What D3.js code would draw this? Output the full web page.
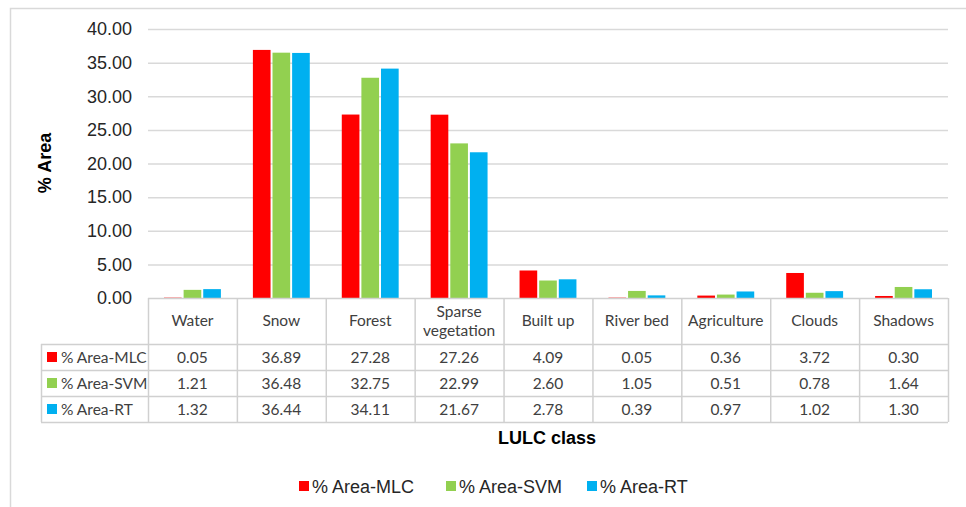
<!DOCTYPE html>
<html>
<head>
<meta charset="utf-8">
<script src="https://cdn.jsdelivr.net/npm/d3@7"></script>
<style>
  html, body { margin: 0; padding: 0; background: #fff; }
  svg { display: block; }
</style>
</head>
<body>
<svg id="chart" width="966" height="507"></svg>
<script>
// LULC classes and area share (%) per classifier
const categories = ["Water", "Snow", "Forest", "Sparse vegetation", "Built up", "River bed", "Agriculture", "Clouds", "Shadows"];
const seriesNames = ["% Area-MLC", "% Area-SVM", "% Area-RT"];
const mlc = [0.05, 36.89, 27.28, 27.26, 4.09, 0.05, 0.36, 3.72, 0.30];
const svm = [1.21, 36.48, 32.75, 22.99, 2.60, 1.05, 0.51, 0.78, 1.64];
const rt  = [1.32, 36.44, 34.11, 21.67, 2.78, 0.39, 0.97, 1.02, 1.30];
const yTicks = [0, 5, 10, 15, 20, 25, 30, 35, 40];
const colors = ["#ff0000", "#92d050", "#00b0f0"];

const series = [mlc, svm, rt];

const svg = d3.select("#chart");
const axisFont = "Arial, 'Liberation Sans', sans-serif";
const tableFont = "Lato, 'Open Sans', sans-serif";
const tableSize = 15.5;

// outer frame (top and left edges visible)
svg.append("rect")
  .attr("x", 10.5).attr("y", 8.5).attr("width", 970).attr("height", 520)
  .attr("fill", "none").attr("stroke", "#d9d9d9").attr("stroke-width", 1.5);

const plotLeft = 148, plotRight = 948, plotTop = 29, plotBottom = 298;

const x = d3.scaleBand().domain(categories).range([plotLeft, plotRight]).paddingInner(0).paddingOuter(0);
const xs = d3.scaleBand().domain(seriesNames).range([16, x.bandwidth() - 16]).paddingInner(0.1);
const y = d3.scaleLinear().domain([0, 40]).range([plotBottom, plotTop]);

// horizontal gridlines
svg.append("g").selectAll("line").data(yTicks.filter(d => d > 0)).join("line")
  .attr("x1", plotLeft).attr("x2", plotRight)
  .attr("y1", d => y(d) + 0.5).attr("y2", d => y(d) + 0.5)
  .attr("stroke", "#d9d9d9").attr("stroke-width", 1.5);

// y axis labels
const yAxis = d3.axisLeft(y).tickValues(yTicks).tickFormat(d3.format(".2f")).tickSize(0).tickPadding(16);
const yg = svg.append("g").attr("transform", `translate(${plotLeft},0)`).call(yAxis);
yg.select(".domain").remove();
yg.selectAll("text")
  .attr("font-family", axisFont).attr("font-size", 18).attr("fill", "#262626");

// y axis title
svg.append("text")
  .attr("transform", "translate(51,163) rotate(-90)")
  .attr("text-anchor", "middle")
  .attr("font-family", axisFont).attr("font-size", 18).attr("font-weight", "bold")
  .attr("fill", "#000")
  .text("% Area");

// bars
const groups = svg.append("g").selectAll("g").data(categories).join("g")
  .attr("transform", d => `translate(${x(d)},0)`);
groups.selectAll("rect")
  .data((c, i) => series.map((s, j) => ({ name: seriesNames[j], value: s[i], color: colors[j] })))
  .join("rect")
  .attr("x", d => xs(d.name))
  .attr("width", xs.bandwidth())
  .attr("y", d => y(d.value))
  .attr("height", d => plotBottom - y(d.value))
  .attr("fill", d => d.color);

// data table below the plot
const gridColor = "#d0d0d0";
const headerBottom = 344, rowH = 26, tableLeft = 41;
const tableBottom = headerBottom + rowH * 3;
const tg = svg.append("g");

// horizontal lines
tg.append("line").attr("x1", plotLeft).attr("x2", plotRight)
  .attr("y1", plotBottom + 0.5).attr("y2", plotBottom + 0.5)
  .attr("stroke", gridColor).attr("stroke-width", 1.5);
tg.selectAll("line.h").data([0, 1, 2, 3]).join("line").attr("class", "h")
  .attr("x1", tableLeft).attr("x2", plotRight)
  .attr("y1", d => headerBottom + d * rowH + 0.5).attr("y2", d => headerBottom + d * rowH + 0.5)
  .attr("stroke", gridColor).attr("stroke-width", 1.5);

// vertical lines
const vx = categories.map(c => x(c)).concat([plotRight]);
tg.selectAll("line.v").data(vx).join("line").attr("class", "v")
  .attr("x1", d => d + 0.5).attr("x2", d => d + 0.5)
  .attr("y1", plotBottom).attr("y2", tableBottom)
  .attr("stroke", gridColor).attr("stroke-width", 1.5);
tg.append("line")
  .attr("x1", tableLeft + 0.5).attr("x2", tableLeft + 0.5)
  .attr("y1", headerBottom).attr("y2", tableBottom)
  .attr("stroke", gridColor).attr("stroke-width", 1.5);

// category headers
const headers = tg.selectAll("text.hdr").data(categories).join("text").attr("class", "hdr")
  .attr("text-anchor", "middle")
  .attr("font-family", tableFont).attr("font-size", tableSize).attr("fill", "#404040")
  .attr("x", d => x(d) + x.bandwidth() / 2);
headers.each(function (d) {
  const t = d3.select(this);
  const parts = d === "Sparse vegetation" ? ["Sparse", "vegetation"] : [d];
  const mid = (plotBottom + headerBottom) / 2 + 5;
  parts.forEach((p, k) => {
    t.append("tspan")
      .attr("x", x(d) + x.bandwidth() / 2)
      .attr("y", mid + (k - (parts.length - 1) / 2) * 19)
      .text(p);
  });
});

// row labels with colour keys
seriesNames.forEach((name, j) => {
  const cy = headerBottom + j * rowH + rowH / 2;
  tg.append("rect").attr("x", 47).attr("y", cy - 5).attr("width", 10).attr("height", 10).attr("fill", colors[j]);
  tg.append("text").attr("x", 61).attr("y", cy + 5.5)
    .attr("font-family", tableFont).attr("font-size", tableSize).attr("fill", "#404040")
    .attr("textLength", null)
    .text(name);
  tg.selectAll(null).data(series[j]).join("text")
    .attr("text-anchor", "middle")
    .attr("x", (d, i) => x(categories[i]) + x.bandwidth() / 2)
    .attr("y", cy + 5.5)
    .attr("font-family", tableFont).attr("font-size", tableSize).attr("fill", "#404040")
    .text(d => d3.format(".2f")(d));
});

// x axis title
svg.append("text")
  .attr("x", 547).attr("y", 444)
  .attr("text-anchor", "middle")
  .attr("font-family", axisFont).attr("font-size", 18).attr("font-weight", "bold")
  .attr("fill", "#000")
  .text("LULC class");

// legend
const legendX = [299, 446, 587];
const lg = svg.append("g").selectAll("g").data(seriesNames).join("g")
  .attr("transform", (d, i) => `translate(${legendX[i]},486)`);
lg.append("rect").attr("x", 0).attr("y", -5).attr("width", 10).attr("height", 10)
  .attr("fill", (d, i) => colors[i]);
lg.append("text").attr("x", 13).attr("y", 6.5)
  .attr("font-family", axisFont).attr("font-size", 18).attr("fill", "#262626")
  .text(d => d);
</script>
</body>
</html>
